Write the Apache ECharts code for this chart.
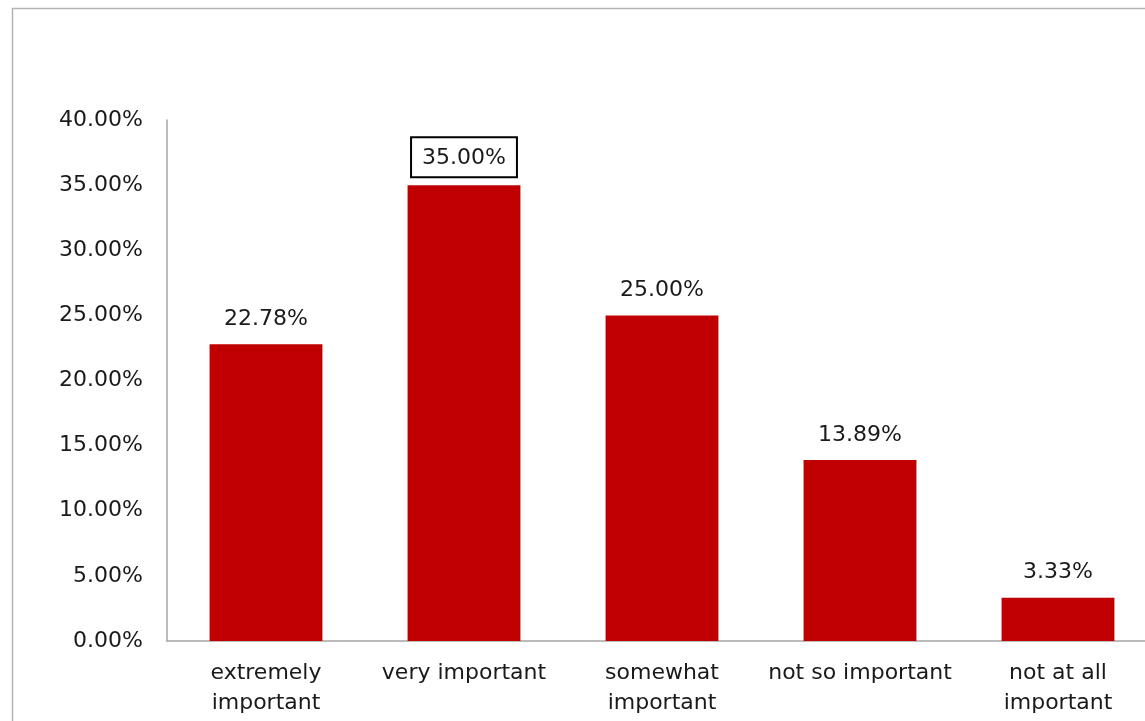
<!DOCTYPE html>
<html><head><meta charset="utf-8">
<script src="https://cdn.jsdelivr.net/npm/echarts@6/dist/echarts.min.js"></script>
<style>html,body{margin:0;padding:0;background:#fff}#c{width:1145px;height:721px}</style>
</head><body><div id="c"></div>
<script>
const categories = ['extremely\nimportant', 'very important', 'somewhat\nimportant', 'not so important', 'not at all\nimportant'];
const values = [22.78, 35.00, 25.00, 13.89, 3.33];
const highlighted = [false, true, false, false, false];

const FONT = 'DejaVu Sans';
const chart = echarts.init(document.getElementById('c'));
chart.setOption({
  animation: false,
  backgroundColor: '#fff',
  textStyle: { fontFamily: FONT },
  graphic: [{
    type: 'rect', silent: true,
    shape: { x: 12.5, y: 8.5, width: 1300, height: 900 },
    style: { fill: 'none', stroke: '#b3b3b3', lineWidth: 1.5 }
  }],
  grid: { left: 167, width: 990, top: 120, bottom: 80, containLabel: false, outerBoundsMode: 'none' },
  xAxis: {
    type: 'category', data: categories,
    axisLine: { lineStyle: { color: '#a6a6a6', width: 1.5 } },
    axisTick: { show: false },
    axisLabel: { color: '#1a1a1a', fontSize: 22, margin: 17, lineHeight: 30, fontFamily: FONT, interval: 0 }
  },
  yAxis: {
    type: 'value', min: 0, max: 40, interval: 5,
    axisLine: { show: true, lineStyle: { color: '#a6a6a6', width: 1.5 } },
    axisTick: { show: false },
    splitLine: { show: false },
    axisLabel: { color: '#1a1a1a', fontSize: 22, margin: 24, fontFamily: FONT,
      formatter: v => v.toFixed(2) + '%' }
  },
  series: [{
    type: 'bar', barCategoryGap: '43%',
    data: values.map((v, i) => ({
      value: v,
      label: highlighted[i] ? { borderColor: '#000', borderWidth: 2, padding: [10, 11, 8, 11], distance: 8 } : {}
    })),
    itemStyle: { color: '#C00000' },
    label: { show: true, position: 'top', distance: 14, color: '#1a1a1a', fontSize: 22, fontFamily: FONT,
      formatter: p => p.value.toFixed(2) + '%' }
  }]
});
</script></body></html>
